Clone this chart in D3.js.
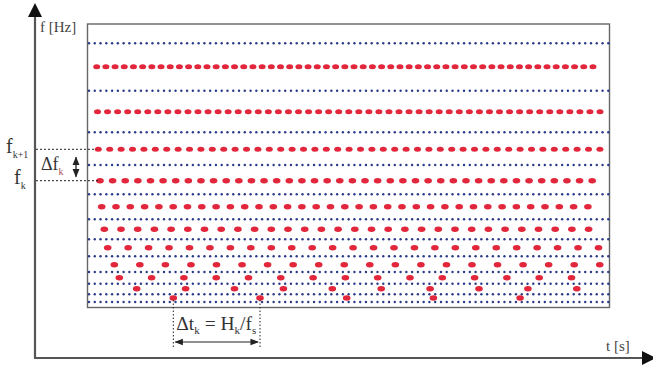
<!DOCTYPE html>
<html>
<head>
<meta charset="utf-8">
<script src="https://cdn.jsdelivr.net/npm/d3@7"></script>
<style>
  html, body { margin: 0; padding: 0; background: #fff; }
  svg { display: block; font-family: "Liberation Serif", "DejaVu Serif", serif; }
</style>
</head>
<body>
<div id="viz"></div>
<script>
// frequency rows (arbitrary units, 0 = bottom of the frame)
var blueFreqs = [264.2, 216.8, 175.2, 142.5, 113.2, 88.2, 68.2, 51.2, 35.5, 23.7, 13.2, 5.5];
var blueStart = 1.5, blueHop = 5.77, blueCount = 91;

// analysis frames per band: first frame time, hop, number of frames
var redFreqs  = [240.8, 195.8, 158.2, 126.8, 100.8, 78.2, 59.8, 42.8, 29.8, 18.8, 9.5];
var redStarts = [9.2, 10, 10.8, 12.5, 14.2, 16.8, 20.2, 26.8, 31.8, 49.2, 85.8];
var redHops   = [9.19, 10.05, 11.4, 12.62, 14.3, 16.7, 20.45, 25.55, 32.3, 48.9, 86.7];
var redCounts = [55, 51, 45, 40, 35, 30, 25, 20, 15, 10, 5];

var width = 653, height = 365;
var box = { left: 87.5, right: 609.5, top: 24, bottom: 307.5 };

var x = d3.scaleLinear().domain([0, 522]).range([box.left, box.right]);
var y = d3.scaleLinear().domain([0, 283.5]).range([box.bottom, box.top]);

var svg = d3.select('#viz').append('svg')
  .attr('width', width)
  .attr('height', height);

var defs = svg.append('defs');
defs.append('filter').attr('id', 'soft')
  .attr('x', '-50%').attr('y', '-50%').attr('width', '200%').attr('height', '200%')
  .append('feGaussianBlur').attr('stdDeviation', 0.6);
defs.append('marker').attr('id', 'ah')
  .attr('viewBox', '0 0 10 10').attr('refX', 9).attr('refY', 5)
  .attr('markerWidth', 7).attr('markerHeight', 7).attr('orient', 'auto-start-reverse')
  .append('path').attr('d', 'M0,1 L10,5 L0,9 Z').attr('fill', '#222');

// axes with arrows
svg.append('line')
  .attr('x1', 35).attr('y1', 14).attr('x2', 35).attr('y2', 358)
  .attr('stroke', '#555').attr('stroke-width', 2.2);
svg.append('line')
  .attr('x1', 34).attr('y1', 358).attr('x2', 645).attr('y2', 358)
  .attr('stroke', '#555').attr('stroke-width', 2.2);
svg.append('path').attr('d', 'M35,3 L28,17 L42,17 Z').attr('fill', '#111');
svg.append('path').attr('d', 'M656,358 L642,351 L642,365 Z').attr('fill', '#111');

svg.append('text').attr('x', 40).attr('y', 32)
  .attr('font-size', 15).attr('fill', '#444').text('f [Hz]');
svg.append('text').attr('x', 606).attr('y', 351)
  .attr('font-size', 15).attr('fill', '#444').text('t [s]');

// frame
svg.append('rect')
  .attr('x', box.left).attr('y', box.top)
  .attr('width', box.right - box.left).attr('height', box.bottom - box.top)
  .attr('fill', 'none').attr('stroke', '#666').attr('stroke-width', 1.4);

// blue bin grid
var blueTimes = d3.range(blueCount).map(function(i) { return blueStart + i * blueHop; });
var blueRows = svg.append('g').attr('filter', 'url(#soft)')
  .selectAll('g').data(blueFreqs).enter().append('g');
blueRows.selectAll('circle')
  .data(function(f) { return blueTimes.map(function(t) { return { t: t, f: f }; }); })
  .enter().append('circle')
    .attr('cx', function(d) { return x(d.t); })
    .attr('cy', function(d) { return y(d.f); })
    .attr('r', 1.2)
    .attr('fill', '#2b3a88');

// red frames
var redRows = svg.append('g').attr('filter', 'url(#soft)')
  .selectAll('g').data(redFreqs).enter().append('g');
redRows.selectAll('ellipse')
  .data(function(f, i) {
    return d3.range(redCounts[i]).map(function(j) {
      return { t: redStarts[i] + j * redHops[i], f: f, row: i };
    });
  })
  .enter().append('ellipse')
    .attr('cx', function(d) { return x(d.t); })
    .attr('cy', function(d) { return y(d.f); })
    .attr('rx', function(d) { return d.row < 3 ? 3.5 : 3.8; })
    .attr('ry', function(d) { return d.row < 3 ? 2.5 : 2.7; })
    .attr('fill', '#e2263a');

// f_k+1 / f_k guides
var kRow = 2;
[kRow, kRow + 1].forEach(function(r) {
  var fy = y(redFreqs[r]);
  svg.append('line')
    .attr('x1', 36).attr('x2', x(redStarts[r]) - 2)
    .attr('y1', fy).attr('y2', fy)
    .attr('stroke', '#222').attr('stroke-width', 1).attr('stroke-dasharray', '2,2');
});
var tk1 = svg.append('text').attr('x', 6).attr('y', 153).attr('font-size', 20).attr('fill', '#333');
tk1.append('tspan').text('f');
tk1.append('tspan').attr('font-size', 10).attr('dy', 5).text('k+1');
var tk = svg.append('text').attr('x', 14).attr('y', 184).attr('font-size', 20).attr('fill', '#333');
tk.append('tspan').text('f');
tk.append('tspan').attr('font-size', 10).attr('dy', 5).text('k');

var tdf = svg.append('text').attr('x', 41).attr('y', 170).attr('font-size', 18).attr('fill', '#333');
tdf.append('tspan').text('\u0394f');
tdf.append('tspan').attr('font-size', 10).attr('dy', 5).attr('fill', '#b0505a').text('k');

svg.append('line')
  .attr('x1', 76).attr('x2', 76)
  .attr('y1', y(redFreqs[kRow]) + 8).attr('y2', y(redFreqs[kRow + 1]) - 4)
  .attr('stroke', '#222').attr('stroke-width', 1.3)
  .attr('marker-start', 'url(#ah)').attr('marker-end', 'url(#ah)');

// delta t annotation on the lowest band
var last = redFreqs.length - 1;
var t0 = x(redStarts[last]), t1 = x(redStarts[last] + redHops[last]);
[t0, t1].forEach(function(tx) {
  svg.append('line')
    .attr('x1', tx).attr('x2', tx)
    .attr('y1', y(redFreqs[last]) + 2).attr('y2', 347)
    .attr('stroke', '#222').attr('stroke-width', 1).attr('stroke-dasharray', '1.5,2');
});
svg.append('line')
  .attr('x1', t0 + 2).attr('x2', t1 - 2).attr('y1', 342).attr('y2', 342)
  .attr('stroke', '#222').attr('stroke-width', 1.2)
  .attr('marker-start', 'url(#ah)').attr('marker-end', 'url(#ah)');

var tdt = svg.append('text').attr('x', t0 + 3).attr('y', 330).attr('font-size', 19.5).attr('fill', '#333');
tdt.append('tspan').text('\u0394t');
tdt.append('tspan').attr('font-size', 11).attr('dy', 4).text('k');
tdt.append('tspan').attr('dy', -4).text(' = H');
tdt.append('tspan').attr('font-size', 11).attr('dy', 4).text('k');
tdt.append('tspan').attr('dy', -4).text('/f');
tdt.append('tspan').attr('font-size', 11).attr('dy', 4).text('s');
</script>
</body>
</html>
